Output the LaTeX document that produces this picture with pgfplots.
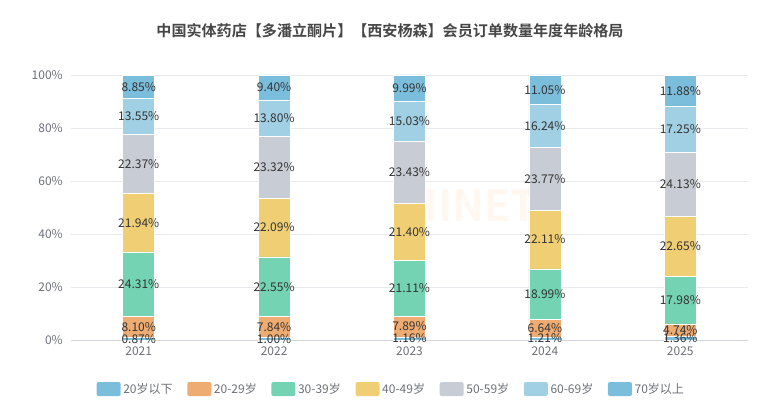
\documentclass[border=0pt]{standalone}
\usepackage{pgfplots}
\pgfplotsset{compat=1.18}
\usepackage{fontspec}
\setmainfont{Noto Sans CJK SC}[BoldFont={Noto Sans CJK SC Bold}]
\definecolor{cA}{HTML}{7BBEDC}
\definecolor{cB}{HTML}{EEAB72}
\definecolor{cC}{HTML}{73D3B2}
\definecolor{cD}{HTML}{EFCE74}
\definecolor{cE}{HTML}{C8CCD4}
\definecolor{cF}{HTML}{A1D0E4}
\definecolor{cG}{HTML}{7BBEDC}
\definecolor{gridc}{HTML}{E8E9EC}
\definecolor{axisc}{HTML}{D4D6DB}
\definecolor{tickc}{HTML}{6E7079}
\definecolor{labc}{HTML}{333333}
\definecolor{titc}{HTML}{464646}
\begin{document}
\begin{tikzpicture}
\path[use as bounding box] (0pt,0pt) rectangle (585pt,300pt);
\node[font=\bfseries\fontsize{11.3}{13}\selectfont, text=titc] at (292.5pt,277pt) {中国实体药店【多潘立酮片】【西安杨森】会员订单数量年度年龄格局};
\node[font=\bfseries\fontsize{32}{34}\selectfont, text=orange!6] at (352pt,146pt) {MINET};
\begin{axis}[
  at={(53.25pt,45pt)}, anchor=south west, scale only axis,
  width=507.75pt, height=198.75pt,
  xmin=-0.5, xmax=4.5, ymin=0, ymax=100,
  ybar stacked, bar width=24pt,
  xtick={0,1,2,3,4}, xticklabels={2021,2022,2023,2024,2025},
  ytick={0,20,40,60,80,100},
  yticklabel={\pgfmathprintnumber{\tick}\%},
  /pgf/number format/assume math mode=true,
  ymajorgrids, grid style={color=gridc, line width=0.6pt},
  axis x line*=bottom, axis y line*=left,
  x axis line style={draw=axisc, line width=0.75pt},
  y axis line style={draw=none},
  major tick length=0pt,
  tick style={draw=none},
  yticklabel style={font=\fontsize{9}{10}\selectfont, text=tickc, inner sep=0pt, xshift=-6pt},
  xticklabel style={font=\fontsize{9}{10}\selectfont, text=tickc, inner sep=0pt, yshift=-5pt},
  legend columns=7,
  legend style={draw=none, fill=none, at={(0.4736,-0.185)}, anchor=center,
    font=\fontsize{9}{10}\selectfont, text=tickc,
    /tikz/every even column/.append style={column sep=9pt},
    nodes={inner sep=2pt}},
  legend image code/.code={\draw[#1, draw=none, rounded corners=1.5pt] (0pt,-5.25pt) rectangle (18pt,5.25pt);},
  every axis plot/.append style={draw=white, line width=0.4pt},
]
\addplot[fill=cA] coordinates {(0,0.87) (1,1.00) (2,1.16) (3,1.21) (4,1.36)};
\addlegendentry{20岁以下}
\addplot[fill=cB] coordinates {(0,8.10) (1,7.84) (2,7.89) (3,6.64) (4,4.74)};
\addlegendentry{20-29岁}
\addplot[fill=cC] coordinates {(0,24.31) (1,22.55) (2,21.11) (3,18.99) (4,17.98)};
\addlegendentry{30-39岁}
\addplot[fill=cD] coordinates {(0,21.94) (1,22.09) (2,21.40) (3,22.11) (4,22.65)};
\addlegendentry{40-49岁}
\addplot[fill=cE] coordinates {(0,22.37) (1,23.32) (2,23.43) (3,23.77) (4,24.13)};
\addlegendentry{50-59岁}
\addplot[fill=cF] coordinates {(0,13.55) (1,13.80) (2,15.03) (3,16.24) (4,17.25)};
\addlegendentry{60-69岁}
\addplot[fill=cG] coordinates {(0,8.85) (1,9.40) (2,9.99) (3,11.05) (4,11.88)};
\addlegendentry{70岁以上}
\end{axis}
\begin{axis}[
  at={(53.25pt,45pt)}, anchor=south west, scale only axis,
  width=507.75pt, height=198.75pt,
  xmin=-0.5, xmax=4.5, ymin=0, ymax=100,
  hide axis, clip=false,
  /pgf/number format/assume math mode=true,
]
\addplot[draw=none, mark=none, point meta=explicit,
  nodes near coords={\pgfmathprintnumber[fixed,fixed zerofill,precision=2,assume math mode=true]{\pgfplotspointmeta}\%},
  nodes near coords align=center,
  every node near coord/.style={font=\fontsize{9}{10}\selectfont, text=labc, inner sep=0pt, anchor=center}]
table[meta=v] {
x y v
0 0.435 0.87
0 4.92 8.10
0 21.125 24.31
0 44.25 21.94
0 66.405 22.37
0 84.365 13.55
0 95.565 8.85
1 0.5 1.00
1 4.92 7.84
1 20.115 22.55
1 42.435 22.09
1 65.14 23.32
1 83.70 13.80
1 95.30 9.40
2 0.58 1.16
2 5.105 7.89
2 19.605 21.11
2 40.86 21.40
2 63.275 23.43
2 82.505 15.03
2 95.015 9.99
3 0.605 1.21
3 4.53 6.64
3 17.345 18.99
3 37.895 22.11
3 60.835 23.77
3 80.84 16.24
3 94.485 11.05
4 0.68 1.36
4 3.73 4.74
4 15.09 17.98
4 35.405 22.65
4 58.795 24.13
4 79.485 17.25
4 94.05 11.88
};
\end{axis}
\end{tikzpicture}
\end{document}
